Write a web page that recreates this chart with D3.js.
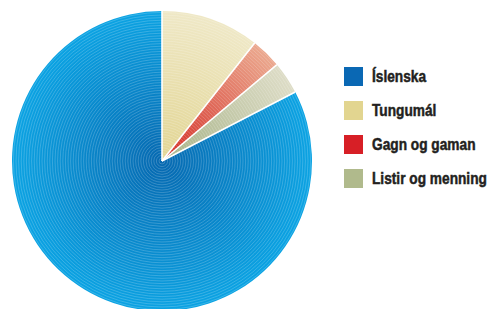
<!DOCTYPE html>
<html>
<head>
<meta charset="utf-8">
<script src="https://cdn.jsdelivr.net/npm/d3@7"></script>
<style>
  body { margin: 0; background: #fff; }
  svg { display: block; }
  .legend-text { font-family: "Liberation Sans", Arial, sans-serif; font-weight: bold; font-size: 16.5px; fill: #231f20; stroke: #231f20; stroke-width: 0.5px; }
</style>
</head>
<body>
<svg id="chart" width="493" height="309"></svg>
<script>
// chart data
const categories = ["Íslenska", "Tungumál", "Gagn og gaman", "Listir og menning"];
const values = [82.6, 10.6, 3.3, 3.5];
const legendColors = ["#0a68b4", "#e2d590", "#d71f26", "#b0ba8c"];
// inner / outer gradient stops for each slice
const innerColors = ["#0668b0", "#e2d592", "#d42a24", "#a6b286"];
const outerColors = ["#0ba3e3", "#efe8c6", "#eba88e", "#dddcc6"];
// drawing order round the pie, clockwise from 12 o'clock
const sliceOrder = [1, 2, 3, 0];

const width = 493, height = 309;
const cx = 162, cy = 161, radius = 150;

const svg = d3.select("#chart");
const defs = svg.append("defs");

categories.forEach((c, i) => {
  const g = defs.append("radialGradient")
    .attr("id", "grad" + i)
    .attr("gradientUnits", "userSpaceOnUse")
    .attr("cx", 0).attr("cy", 0).attr("r", radius);
  g.append("stop").attr("offset", "0%").attr("stop-color", innerColors[i]);
  g.append("stop").attr("offset", "100%").attr("stop-color", outerColors[i]);
});

const pie = d3.pie().sort(null).value(i => values[i]);
const arc = d3.arc().innerRadius(0).outerRadius(radius);
const arcs = pie(sliceOrder);

const root = svg.append("g").attr("transform", `translate(${cx},${cy})`);

// clip for concentric ring texture
defs.append("clipPath").attr("id", "pieClip")
  .append("circle").attr("r", radius);

root.selectAll("path.slice")
  .data(arcs)
  .join("path")
  .attr("class", "slice")
  .attr("d", arc)
  .attr("fill", d => `url(#grad${d.data})`);

// concentric rings give the striped look
const rings = d3.range(3, radius, 2.6);
root.append("g")
  .attr("clip-path", "url(#pieClip)")
  .selectAll("circle")
  .data(rings)
  .join("circle")
  .attr("r", d => d)
  .attr("fill", "none")
  .attr("stroke", "#ffffff")
  .attr("stroke-opacity", 0.22)
  .attr("stroke-width", 0.9);

// white separators between slices
root.selectAll("path.sep")
  .data(arcs)
  .join("path")
  .attr("class", "sep")
  .attr("d", d => {
    const a = d.startAngle;
    return `M0,0L${radius * Math.sin(a)},${-radius * Math.cos(a)}`;
  })
  .attr("stroke", "#fff")
  .attr("stroke-width", 1.6);

// legend
const legend = svg.append("g");
const ly = d3.scalePoint().domain(categories).range([76.5, 178.5]);
const row = legend.selectAll("g")
  .data(categories)
  .join("g")
  .attr("transform", d => `translate(344,${ly(d)})`);

row.append("rect")
  .attr("x", 0).attr("y", -9.5)
  .attr("width", 19).attr("height", 19)
  .attr("fill", (d, i) => legendColors[i]);

const labels = row.append("text")
  .attr("class", "legend-text")
  .attr("y", 0)
  .attr("dy", "0.36em")
  .text(d => d);

// squeeze the text so it reads as a condensed face; longest label ~115px wide
const longest = d3.max(labels.nodes(), n => n.getComputedTextLength());
const sx = 115 / longest;
labels.attr("transform", `translate(28,0) scale(${sx},1)`);
</script>
</body>
</html>
